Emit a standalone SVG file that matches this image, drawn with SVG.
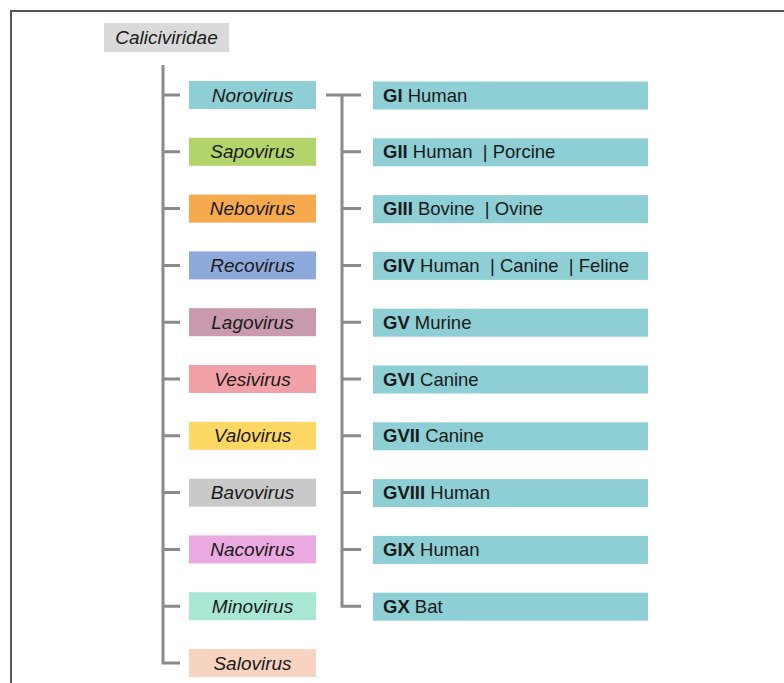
<svg xmlns="http://www.w3.org/2000/svg" width="784" height="683" viewBox="0 0 784 683">
<style>
.lbl{font-family:"Liberation Sans",Arial,sans-serif;font-size:19px;font-style:italic;fill:#1a1a1a;text-anchor:middle}
.g{font-family:"Liberation Sans",Arial,sans-serif;font-size:18.5px;fill:#1a1a1a}
.b{font-weight:bold}
.ln{stroke:#8a8a8a;stroke-width:3;fill:none}
.gb{fill:#8dcfd4}
</style>
<rect width="784" height="683" fill="#fff"/>
<path d="M11,683 V11 H784" stroke="#555" stroke-width="2" fill="none"/>
<g id="connectors">
<path class="ln" d="M163,65 V663 H180"/>
<path class="ln" d="M163,95 H180 M163,151.8 H180 M163,208.6 H180 M163,265.4 H180 M163,322.2 H180 M163,379 H180 M163,435.8 H180 M163,492.6 H180 M163,549.4 H180 M163,606.2 H180"/>
<path class="ln" d="M326,95 H361 M342,95 V606.2 H361"/>
<path class="ln" d="M342,151.8 H361 M342,208.6 H361 M342,265.4 H361 M342,322.2 H361 M342,379 H361 M342,435.8 H361 M342,492.6 H361 M342,549.4 H361"/>
</g>
<g id="caliciviridae"><rect x="104" y="23" width="125" height="29" fill="#d9d9d9"/><text class="lbl" x="166.5" y="44">Caliciviridae</text></g>
<g id="norovirus"><rect x="189" y="81" width="127" height="28" fill="#8dcfd4"/><text class="lbl" x="252.5" y="101.5">Norovirus</text></g>
<g id="sapovirus"><rect x="189" y="137.8" width="127" height="28" fill="#b3d46b"/><text class="lbl" x="252.5" y="158.3">Sapovirus</text></g>
<g id="nebovirus"><rect x="189" y="194.6" width="127" height="28" fill="#f6a94d"/><text class="lbl" x="252.5" y="215.1">Nebovirus</text></g>
<g id="recovirus"><rect x="189" y="251.4" width="127" height="28" fill="#8ea9db"/><text class="lbl" x="252.5" y="271.9">Recovirus</text></g>
<g id="lagovirus"><rect x="189" y="308.2" width="127" height="28" fill="#c99aad"/><text class="lbl" x="252.5" y="328.7">Lagovirus</text></g>
<g id="vesivirus"><rect x="189" y="365" width="127" height="28" fill="#f2a2a6"/><text class="lbl" x="252.5" y="385.5">Vesivirus</text></g>
<g id="valovirus"><rect x="189" y="421.8" width="127" height="28" fill="#fdd865"/><text class="lbl" x="252.5" y="442.3">Valovirus</text></g>
<g id="bavovirus"><rect x="189" y="478.6" width="127" height="28" fill="#c9c9c9"/><text class="lbl" x="252.5" y="499.1">Bavovirus</text></g>
<g id="nacovirus"><rect x="189" y="535.4" width="127" height="28" fill="#eaa9e0"/><text class="lbl" x="252.5" y="555.9">Nacovirus</text></g>
<g id="minovirus"><rect x="189" y="592.2" width="127" height="28" fill="#a9e7d5"/><text class="lbl" x="252.5" y="612.7">Minovirus</text></g>
<g id="salovirus"><rect x="189" y="649" width="127" height="28" fill="#f7d3c2"/><text class="lbl" x="252.5" y="669.5">Salovirus</text></g>
<g id="gi"><rect class="gb" x="373" y="81.5" width="275" height="28"/><text class="g" x="383" y="101.5"><tspan class="b">GI</tspan> Human</text></g>
<g id="gii"><rect class="gb" x="373" y="138.3" width="275" height="28"/><text class="g" x="383" y="158.3" xml:space="preserve"><tspan class="b">GII</tspan> Human  | Porcine</text></g>
<g id="giii"><rect class="gb" x="373" y="195.1" width="275" height="28"/><text class="g" x="383" y="215.1" xml:space="preserve"><tspan class="b">GIII</tspan> Bovine  | Ovine</text></g>
<g id="giv"><rect class="gb" x="373" y="251.9" width="275" height="28"/><text class="g" x="383" y="271.9" xml:space="preserve"><tspan class="b">GIV</tspan> Human  | Canine  | Feline</text></g>
<g id="gv"><rect class="gb" x="373" y="308.7" width="275" height="28"/><text class="g" x="383" y="328.7"><tspan class="b">GV</tspan> Murine</text></g>
<g id="gvi"><rect class="gb" x="373" y="365.5" width="275" height="28"/><text class="g" x="383" y="385.5"><tspan class="b">GVI</tspan> Canine</text></g>
<g id="gvii"><rect class="gb" x="373" y="422.3" width="275" height="28"/><text class="g" x="383" y="442.3"><tspan class="b">GVII</tspan> Canine</text></g>
<g id="gviii"><rect class="gb" x="373" y="479.1" width="275" height="28"/><text class="g" x="383" y="499.1"><tspan class="b">GVIII</tspan> Human</text></g>
<g id="gix"><rect class="gb" x="373" y="535.9" width="275" height="28"/><text class="g" x="383" y="555.9"><tspan class="b">GIX</tspan> Human</text></g>
<g id="gx"><rect class="gb" x="373" y="592.7" width="275" height="28"/><text class="g" x="383" y="612.7"><tspan class="b">GX</tspan> Bat</text></g>
</svg>
